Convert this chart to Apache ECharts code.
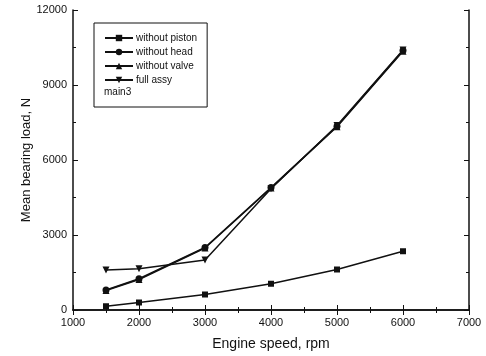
<!DOCTYPE html>
<html>
<head>
<meta charset="utf-8">
<script src="https://cdn.jsdelivr.net/npm/echarts@6/dist/echarts.min.js"></script>
<style>
  html, body { margin: 0; padding: 0; background: #fff; }
  #main { width: 486px; height: 356px; }
</style>
</head>
<body>
<div id="main"></div>
<script>
const speeds = [1500, 2000, 3000, 4000, 5000, 6000];
const withoutPiston = [150, 300, 620, 1050, 1620, 2350];
const withoutHead = [800, 1250, 2500, 4900, 7350, 10380];
const withoutValve = [780, 1220, 2480, 4880, 7330, 10350];
const fullAssy = [1600, 1650, 2000, 4850, 7380, 10400];

const seriesNames = ['without piston', 'without head', 'without valve', 'full assy'];
const seriesData = [withoutPiston, withoutHead, withoutValve, fullAssy];
const symbols = ['rect', 'circle', 'triangle', 'path://M0,0 L10,0 L5,10 Z'];

const font = 'Liberation Sans, Arial, sans-serif';
const chart = echarts.init(document.getElementById('main'));

const series = seriesNames.map(function (name, i) {
  return {
    name: name,
    type: 'line',
    data: speeds.map(function (s, j) { return [s, seriesData[i][j]]; }),
    symbol: symbols[i],
    symbolSize: i === 0 ? 6 : 7,
    lineStyle: { color: '#111', width: 1.5 },
    itemStyle: { color: '#111' },
    z: 3 + i
  };
});

function plain(v) { return String(v); }

const option = {
  animation: false,
  textStyle: { fontFamily: font },
  grid: { left: 73, right: 17, top: 10, bottom: 46 },
  legend: {
    orient: 'vertical',
    left: 94,
    top: 23,
    itemWidth: 28,
    itemHeight: 8,
    itemGap: 4,
    padding: [10, 10, 22, 10],
    borderColor: '#111',
    borderWidth: 1,
    textStyle: { fontFamily: font, fontSize: 10, color: '#111', padding: [0, 0, 0, -2] },
    data: seriesNames
  },
  graphic: [{
    type: 'text',
    left: 104,
    top: 87,
    style: { text: 'main3', font: '10px ' + font, fill: '#111' }
  }],
  xAxis: [{
    type: 'value',
    min: 1000,
    max: 7000,
    interval: 1000,
    name: 'Engine speed, rpm',
    nameLocation: 'middle',
    nameGap: 27,
    nameMoveOverlap: false,
    nameTextStyle: { fontSize: 14, color: '#111', fontFamily: font },
    axisLine: { lineStyle: { color: '#111', width: 1.5 } },
    axisTick: { inside: true, length: 5, lineStyle: { color: '#111' } },
    minorTick: { show: true, splitNumber: 2, length: 3, lineStyle: { color: '#111' } },
    axisLabel: { color: '#111', fontSize: 11, margin: 7, formatter: plain },
    splitLine: { show: false }
  }, {
    type: 'value',
    position: 'top',
    min: 1000,
    max: 7000,
    interval: 1000,
    axisLine: { lineStyle: { color: '#111', width: 1.5 } },
    axisTick: { inside: true, length: 5, lineStyle: { color: '#111' } },
    minorTick: { show: true, splitNumber: 2, length: 3, lineStyle: { color: '#111' } },
    axisLabel: { show: false },
    splitLine: { show: false }
  }],
  yAxis: [{
    type: 'value',
    min: 0,
    max: 12000,
    interval: 3000,
    name: 'Mean bearing load, N',
    nameLocation: 'middle',
    nameGap: 40,
    nameMoveOverlap: false,
    nameTextStyle: { fontSize: 13, color: '#111', fontFamily: font },
    axisLine: { show: true, lineStyle: { color: '#111', width: 1.5 } },
    axisTick: { show: true, inside: true, length: 5, lineStyle: { color: '#111' } },
    minorTick: { show: true, splitNumber: 2, length: 3, lineStyle: { color: '#111' } },
    axisLabel: { color: '#111', fontSize: 11, margin: 6, formatter: plain },
    splitLine: { show: false }
  }, {
    type: 'value',
    position: 'right',
    min: 0,
    max: 12000,
    interval: 3000,
    axisLine: { show: true, lineStyle: { color: '#111', width: 1.5 } },
    axisTick: { show: true, inside: true, length: 5, lineStyle: { color: '#111' } },
    minorTick: { show: true, splitNumber: 2, length: 3, lineStyle: { color: '#111' } },
    axisLabel: { show: false },
    splitLine: { show: false }
  }],
  series: series
};

chart.setOption(option);
</script>
</body>
</html>
